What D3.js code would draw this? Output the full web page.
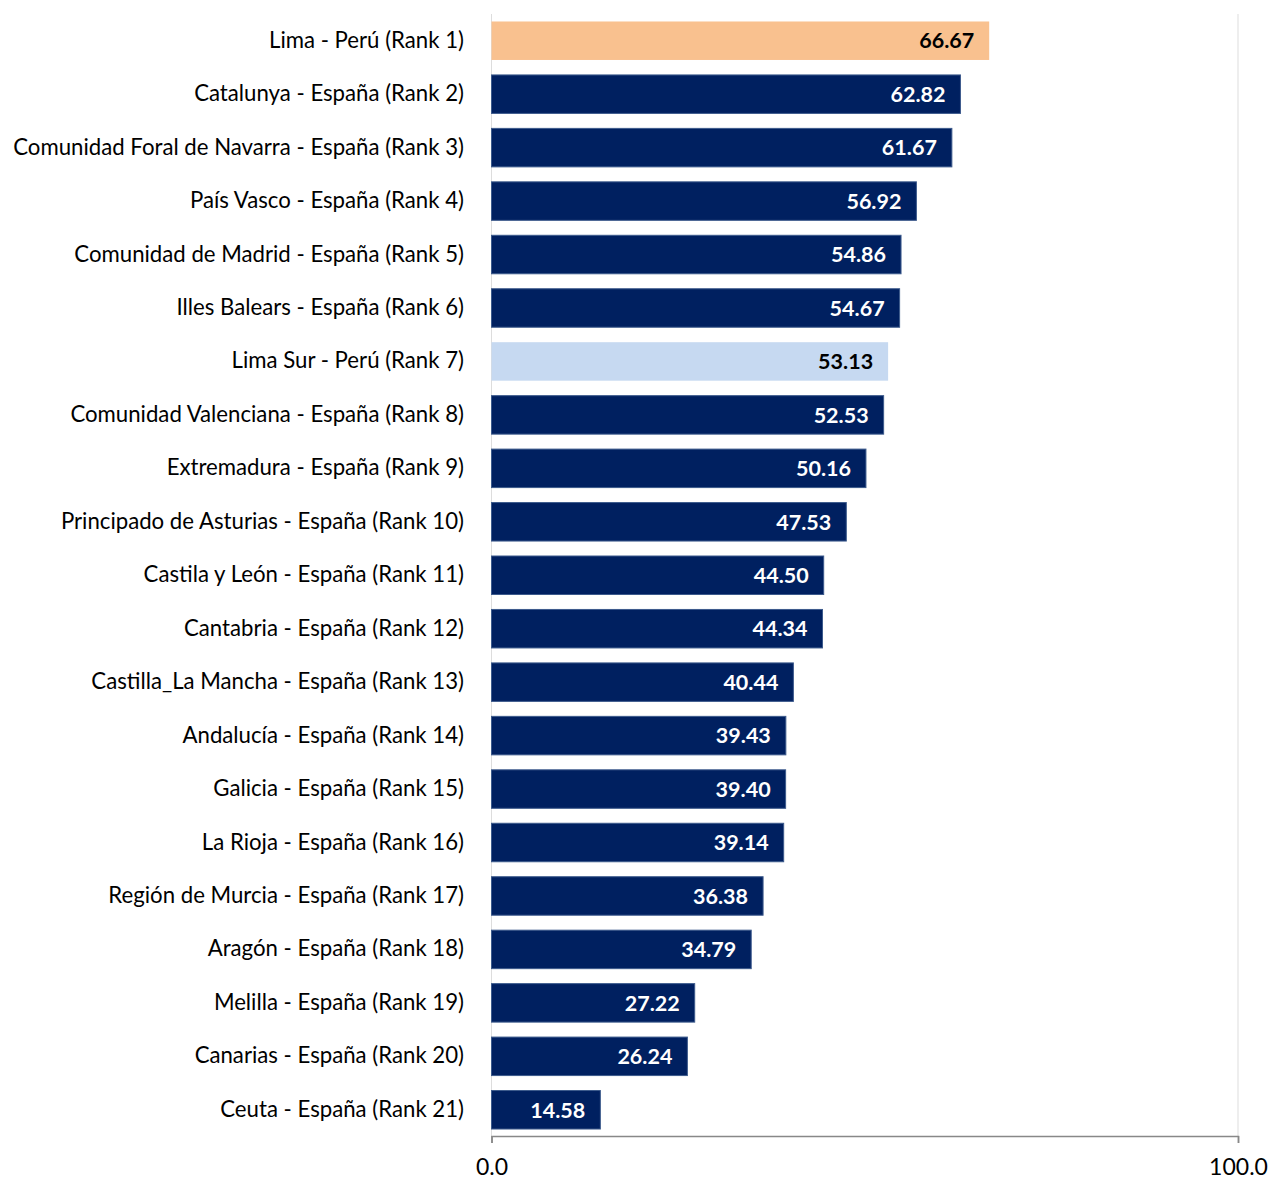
<!DOCTYPE html>
<html>
<head>
<meta charset="utf-8">
<script src="https://cdn.jsdelivr.net/npm/d3@7"></script>
<style>
  html, body { margin: 0; padding: 0; background: #fff; }
  svg text { font-family: Lato, "Open Sans", sans-serif; }
</style>
</head>
<body>
<svg id="chart" width="1271" height="1180"></svg>
<script>
// Regional index scores, ranked
const categories = [
  "Lima - Perú (Rank 1)",
  "Catalunya - España (Rank 2)",
  "Comunidad Foral de Navarra - España (Rank 3)",
  "País Vasco - España (Rank 4)",
  "Comunidad de Madrid - España (Rank 5)",
  "Illes Balears - España (Rank 6)",
  "Lima Sur - Perú (Rank 7)",
  "Comunidad Valenciana - España (Rank 8)",
  "Extremadura - España (Rank 9)",
  "Principado de Asturias - España (Rank 10)",
  "Castila y León - España (Rank 11)",
  "Cantabria - España (Rank 12)",
  "Castilla_La Mancha - España (Rank 13)",
  "Andalucía - España (Rank 14)",
  "Galicia - España (Rank 15)",
  "La Rioja - España (Rank 16)",
  "Región de Murcia - España (Rank 17)",
  "Aragón - España (Rank 18)",
  "Melilla - España (Rank 19)",
  "Canarias - España (Rank 20)",
  "Ceuta - España (Rank 21)"
];
const values = [66.67, 62.82, 61.67, 56.92, 54.86, 54.67, 53.13, 52.53, 50.16, 47.53,
                44.50, 44.34, 40.44, 39.43, 39.40, 39.14, 36.38, 34.79, 27.22, 26.24, 14.58];
// highlight group per bar: "lima", "limasur" or "spain"
const groups = ["lima", "spain", "spain", "spain", "spain", "spain", "limasur",
                "spain", "spain", "spain", "spain", "spain", "spain", "spain",
                "spain", "spain", "spain", "spain", "spain", "spain", "spain"];
const tickValues = [0, 100];

const fill = { lima: "#F9C18F", limasur: "#C6D9F1", spain: "#002060" };
const stroke = { lima: "none", limasur: "none", spain: "#3C5A8C" };
const textColor = { lima: "#000", limasur: "#000", spain: "#fff" };

const svg = d3.select("#chart");
const x = d3.scaleLinear().domain([0, 100]).range([491.5, 1238]);
const y = d3.scaleBand().domain(categories).range([14, 1136.5])
  .paddingInner(0.28).paddingOuter(0.14);

const data = categories.map((c, i) => ({ c, v: values[i], g: groups[i] }));

// vertical gridlines
svg.append("g").selectAll("line").data(tickValues).join("line")
  .attr("x1", d => x(d)).attr("x2", d => x(d))
  .attr("y1", 14).attr("y2", 1136)
  .attr("stroke", "#DDDDDD").attr("stroke-width", 1);

// bars
svg.append("g").selectAll("rect").data(data).join("rect")
  .attr("x", x(0))
  .attr("y", d => y(d.c))
  .attr("width", d => x(d.v) - x(0))
  .attr("height", y.bandwidth())
  .attr("fill", d => fill[d.g])
  .attr("stroke", d => stroke[d.g])
  .attr("stroke-width", 1);

// value labels inside the bar end
svg.append("g").selectAll("text").data(data).join("text")
  .attr("x", d => x(d.v) - 15)
  .attr("y", d => y(d.c) + y.bandwidth() / 2)
  .attr("dy", "0.36em")
  .attr("text-anchor", "end")
  .attr("font-size", 21.5)
  .attr("font-weight", "bold")
  .attr("fill", d => textColor[d.g])
  .text(d => d.v.toFixed(2));

// category labels
svg.append("g").selectAll("text").data(data).join("text")
  .attr("x", 464)
  .attr("y", d => y(d.c) + y.bandwidth() / 2 - 1)
  .attr("dy", "0.36em")
  .attr("text-anchor", "end")
  .attr("font-size", 22.2)
  .attr("fill", "#000")
  .text(d => d.c);

// bottom axis
const axis = d3.axisBottom(x).tickValues(tickValues).tickSize(7).tickFormat(d3.format(".1f"));
const ax = svg.append("g").attr("transform", "translate(0,1136)").call(axis);
ax.select(".domain").attr("stroke", "#888").attr("stroke-width", 1.5);
ax.selectAll(".tick line").attr("stroke", "#888").attr("stroke-width", 1.5);
ax.selectAll(".tick text")
  .attr("font-size", 23).attr("fill", "#000")
  .attr("y", 39).attr("dy", "0")
  .style("font-family", "Lato, 'Open Sans', sans-serif");
</script>
</body>
</html>
